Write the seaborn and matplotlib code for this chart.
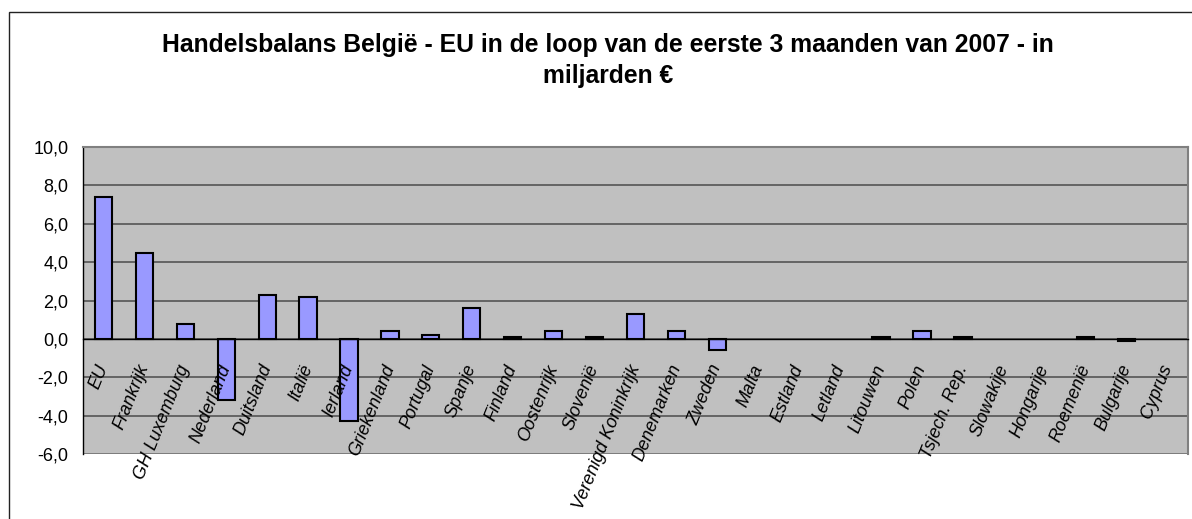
import matplotlib.pyplot as plt
import seaborn as sns
from matplotlib.patches import Rectangle

sns.set_theme(style="white")
plt.rcParams["font.family"] = ["Liberation Sans", "DejaVu Sans"]
plt.rcParams["text.color"] = "black"
plt.rcParams["xtick.color"] = "black"
plt.rcParams["ytick.color"] = "black"

countries = [
    "EU", "Frankrijk", "GH Luxemburg", "Nederland", "Duitsland", "Italië",
    "Ierland", "Griekenland", "Portugal", "Spanje", "Finland", "Oostenrijk",
    "Slovenië", "Verenigd Koninkrijk", "Denemarken", "Zweden", "Malta",
    "Estland", "Letland", "Litouwen", "Polen", "Tsjech. Rep.", "Slowakije",
    "Hongarije", "Roemenië", "Bulgarije", "Cyprus",
]
balance = [
    7.4, 4.5, 0.8, -3.2, 2.3, 2.2,
    -4.3, 0.4, 0.2, 1.6, 0.1, 0.4,
    0.1, 1.3, 0.4, -0.6, 0.0,
    0.0, 0.0, 0.1, 0.4, 0.1, 0.0,
    0.0, 0.1, -0.1, 0.0,
]
y_ticks = [-6, -4, -2, 0, 2, 4, 6, 8, 10]

title_line1 = "Handelsbalans België - EU in de loop van de eerste 3 maanden van 2007 - in"
title_line2 = "miljarden €"

W, H, DPI = 1192, 519, 100
fig = plt.figure(figsize=(W / DPI, H / DPI), dpi=DPI)
fig.patch.set_facecolor("white")

# outer chart frame (right and bottom edges fall outside the picture)
fig.patches.append(Rectangle((9 / W, -0.1), 1.2, 1 - 12 / H + 0.1, transform=fig.transFigure,
                             fill=False, edgecolor="#222222", linewidth=1.0))

left, right, top, bottom = 83 / W, 1188 / W, 147 / H, 454 / H
ax = fig.add_axes([left, 1 - bottom, right - left, bottom - top])
ax.set_facecolor("#C0C0C0")

# bars sit below the axis artists so the category labels are drawn over them
sns.barplot(x=countries, y=balance, color="#9999FF", saturation=1, width=0.42,
            edgecolor="black", linewidth=1.5, ax=ax, zorder=2)
# empty bars leave no outline
for bar in ax.patches:
    if bar.get_height() == 0:
        bar.set_linewidth(0)

n = len(countries)
ax.set_xlim(-0.5, n - 0.5)
ax.set_ylim(y_ticks[0], y_ticks[-1])
ax.set_yticks(y_ticks)
ax.set_yticklabels([f"{v:.1f}".replace(".", ",") for v in y_ticks], fontsize=13)
ax.yaxis.grid(True, color="#555555", linewidth=1.2)
ax.set_axisbelow(True)

ax.spines["bottom"].set_position(("data", 0))
ax.spines["bottom"].set_color("black")
ax.spines["bottom"].set_linewidth(1.0)
ax.spines["bottom"].set_zorder(4)
ax.spines["left"].set_color("black")
ax.spines["left"].set_linewidth(1.0)
for side in ("top", "right"):
    ax.spines[side].set_color("#808080")
    ax.spines[side].set_linewidth(1.5)
ax.axhline(y_ticks[0], color="#808080", linewidth=2.0, zorder=1.5)

ax.set_xticks(range(n))
ax.set_xticklabels(countries, rotation=68, ha="right", va="center",
                   rotation_mode="anchor", fontstyle="italic", fontsize=13)
ax.set_xticks([i + 0.5 for i in range(-1, n)], minor=True)
ax.tick_params(axis="x", which="major", length=0, pad=19)
ax.tick_params(axis="x", which="minor", length=3.6, width=1, color="black", direction="out")
ax.tick_params(axis="y", which="major", length=3.6, width=1, color="black", direction="out", pad=7)
ax.xaxis.set_zorder(3)
ax.set_xlabel("")
ax.set_ylabel("")

fig.text(608 / W, 1 - 52 / H, title_line1, ha="center", va="baseline",
         fontsize=17.8, fontweight="bold", color="black")
fig.text(608 / W, 1 - 83 / H, title_line2, ha="center", va="baseline",
         fontsize=17.8, fontweight="bold", color="black")

fig.savefig("out.png", dpi=DPI)
plt.close(fig)
